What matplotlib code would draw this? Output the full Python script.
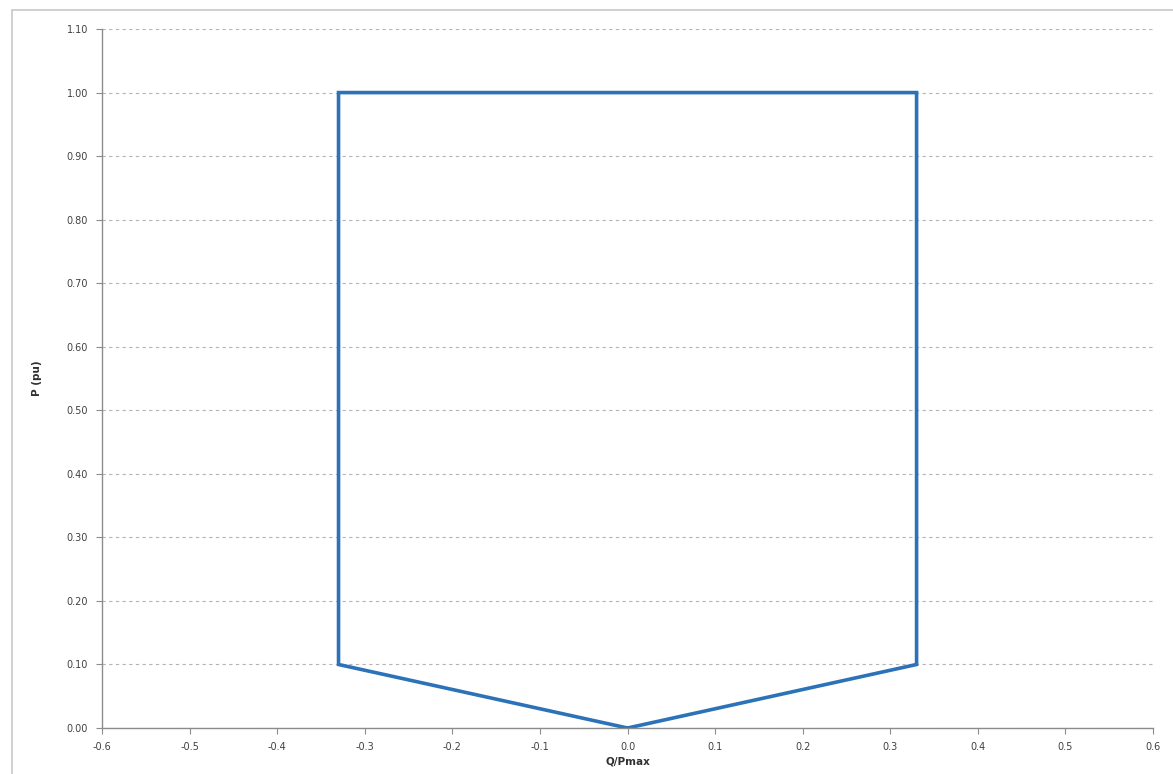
import matplotlib
matplotlib.use("Agg")
import matplotlib.pyplot as plt
from matplotlib.patches import Rectangle

# capability curve corners, Q/Pmax vs P (pu)
q_pmax = [0.0, 0.33, 0.33, -0.33, -0.33, 0.0]
p_pu = [0.0, 0.10, 1.00, 1.00, 0.10, 0.0]

x_ticks = [-0.6, -0.5, -0.4, -0.3, -0.2, -0.1, 0.0, 0.1, 0.2, 0.3, 0.4, 0.5, 0.6]
y_ticks = [0.0, 0.1, 0.2, 0.3, 0.4, 0.5, 0.6, 0.7, 0.8, 0.9, 1.0, 1.1]

fig = plt.figure(figsize=(11.73, 7.74), dpi=100)
ax = fig.add_axes([0.087, 0.0594, 0.896, 0.9031])

# thin chart frame, cut off at the right and bottom edges
fig.patches.append(Rectangle((12 / 1173, -0.05), 1.2, 1 - 10 / 774 + 0.05,
                             transform=fig.transFigure, fill=False,
                             edgecolor="#c8c8c8", linewidth=1.2))

ax.plot(q_pmax, p_pu, color="#2c72b8", linewidth=2.6, solid_joinstyle="miter")

ax.set_xlim(-0.6, 0.6)
ax.set_ylim(0, 1.1)
ax.set_xticks(x_ticks)
ax.set_yticks(y_ticks)
ax.set_xticklabels([f"{v:.1f}" for v in x_ticks])
ax.set_yticklabels([f"{v:.2f}" for v in y_ticks])

ax.grid(axis="y", color="#b4b4b4", linestyle=(0, (3, 3)), linewidth=0.8)
ax.set_axisbelow(True)
for side in ("top", "right"):
    ax.spines[side].set_visible(False)
for side in ("left", "bottom"):
    ax.spines[side].set_color("#8c8c8c")
    ax.spines[side].set_linewidth(1.0)

ax.tick_params(axis="both", colors="#8c8c8c", labelcolor="#404040",
               labelsize=7, length=4, direction="out")
ax.tick_params(axis="y", pad=6)
ax.tick_params(axis="x", pad=6)

ax.set_xlabel("Q/Pmax", fontsize=7.5, fontweight="bold", color="#303030", labelpad=3)
ax.set_ylabel("P (pu)", fontsize=7.5, fontweight="bold", color="#303030", labelpad=18)

fig.savefig("out.png", dpi=100)
